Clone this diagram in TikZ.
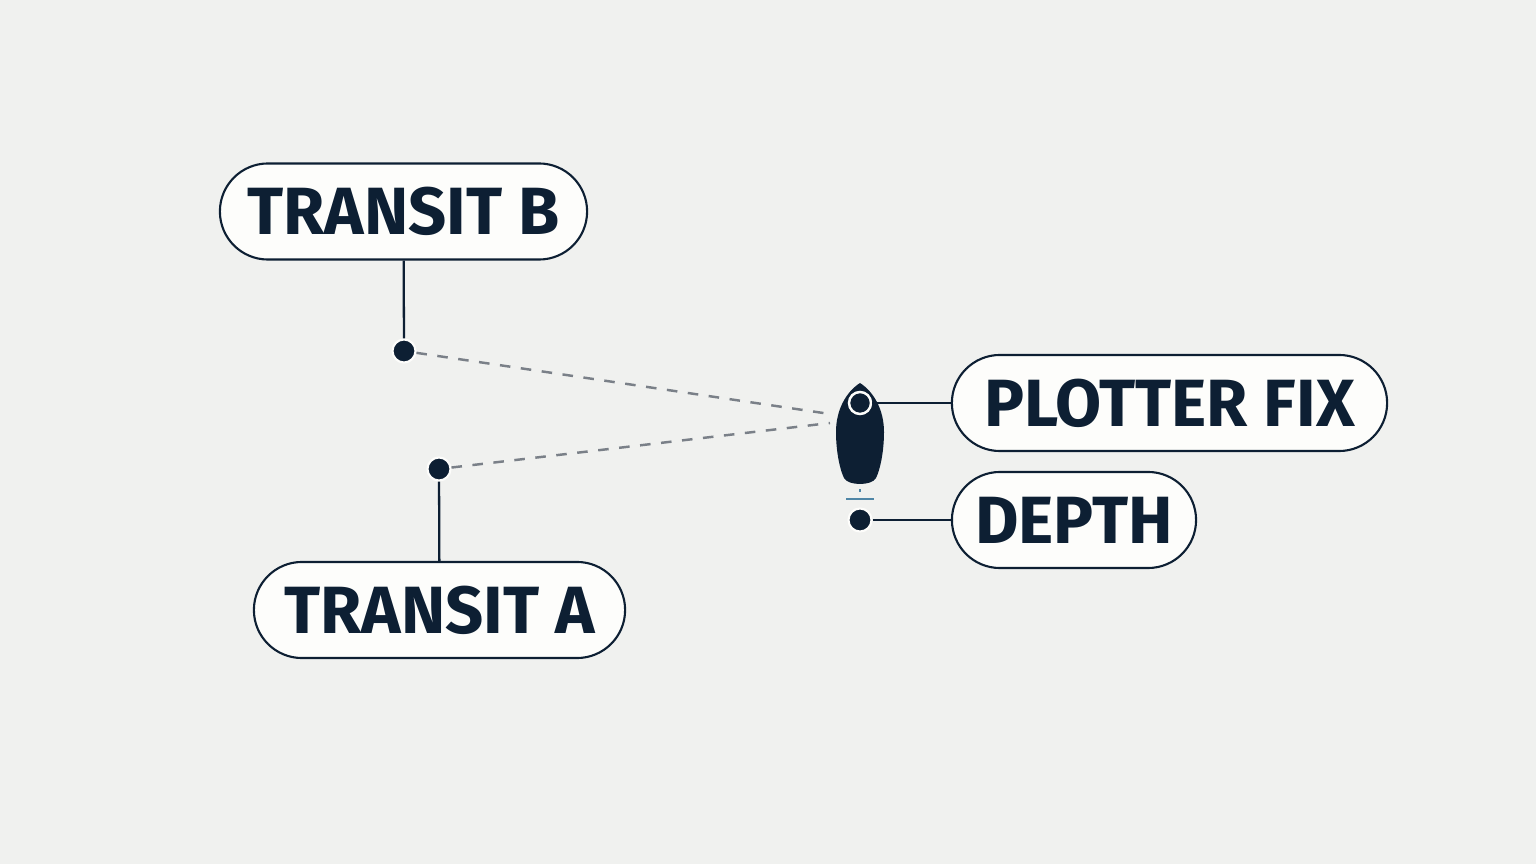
\documentclass[tikz,border=0pt]{standalone}
\usepackage{fontspec}
\setmainfont{Fira Sans}
\usetikzlibrary{shapes.misc}
\definecolor{ink}{HTML}{0D1F33}
\definecolor{paper}{HTML}{F0F1EF}
\definecolor{pill}{HTML}{FDFDFB}
\definecolor{sight}{HTML}{7A8088}
\definecolor{water}{HTML}{4F86A6}
\tikzset{
  tag/.style={draw=ink, line width=0.6pt, fill=pill, rounded rectangle, minimum height=0.96cm,
    inner sep=0pt, text=ink, font=\fontsize{19}{20}\selectfont\bfseries},
  spot/.style={circle, fill=ink, draw=pill, line width=0.6pt, minimum size=0.23cm, inner sep=0pt},
  lead/.style={draw=ink, line width=0.65pt},
  ray/.style={draw=sight, line width=0.7pt, dash pattern=on 3pt off 3pt},
}
\begin{document}
\begin{tikzpicture}[x=0.01cm, y=-0.01cm]
\fill[paper] (0,0) rectangle (1536,864);
\useasboundingbox (0,0) rectangle (1536,864);

\node[tag, minimum width=3.67cm] (tb) at (403.5,211.5) {TRANSIT B};
\node[tag, minimum width=3.71cm] (ta) at (439.5,610) {TRANSIT A};
\node[tag, minimum width=4.35cm] (pf) at (1169.5,403) {PLOTTER FIX};
\node[tag, minimum width=2.44cm] (dp) at (1074,520) {DEPTH};

\node[spot] (mb) at (404,351) {};
\node[spot] (ma) at (439,469) {};
\coordinate (bow) at (830,414);
\coordinate (beam) at (830,423);

\draw[ray] (mb) -- (bow);
\draw[ray] (ma) -- (beam);

% boat
\fill[ink] (860,383) .. controls (846,392) and (836,410) .. (836,432)
  .. controls (836,452) and (840,470) .. (844,478)
  .. controls (848,486) and (872,486) .. (876,478)
  .. controls (880,470) and (884,452) .. (884,432)
  .. controls (884,410) and (874,392) .. (860,383) -- cycle;
\node[circle, fill=ink, draw=pill, line width=0.7pt, minimum size=0.22cm, inner sep=0pt] (fix) at (860,403) {};
\fill[water] (859,489) rectangle (861,492);
\draw[water, line width=0.7pt] (846,499) -- (874,499);
\node[spot] (md) at (860,520) {};

\draw[lead] (tb) -- (mb);
\draw[lead] (ta) -- (ma);
\draw[lead] (fix) -- (pf);
\draw[lead] (md) -- (dp);
\end{tikzpicture}
\end{document}
